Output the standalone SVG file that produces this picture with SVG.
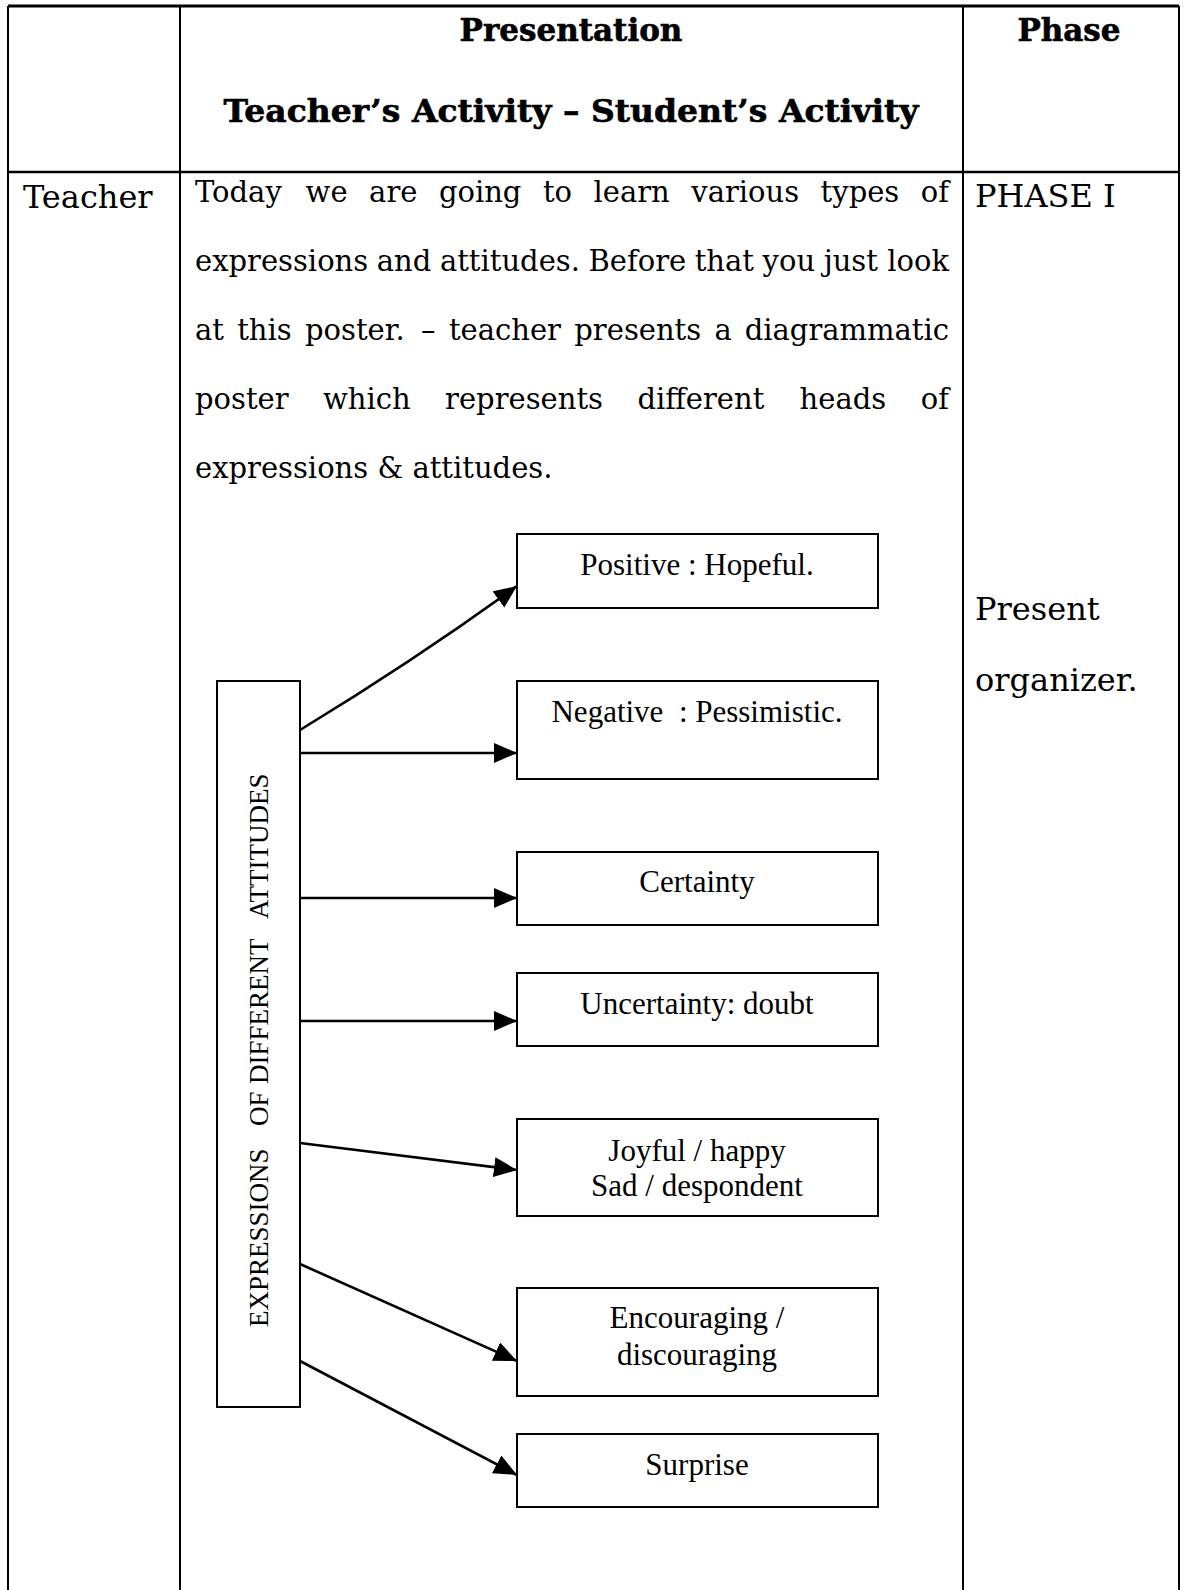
<svg xmlns="http://www.w3.org/2000/svg" width="1184" height="1590" viewBox="0 0 1184 1590">
<style>
.grid{stroke:#000;stroke-width:2;fill:none}
.hd{font-family:"DejaVu Serif","Liberation Serif",serif;font-weight:bold;font-size:31px;fill:#000;stroke:#000;stroke-width:0.6;text-anchor:middle}
.body{font-family:"DejaVu Serif","Liberation Serif",serif;font-size:29px;fill:#000}
.big{font-family:"DejaVu Serif","Liberation Serif",serif;font-size:32px;fill:#000}
.box{fill:#fff;stroke:#000;stroke-width:2}
.lbl{font-family:"Liberation Serif","Times New Roman",serif;font-size:31px;fill:#000;text-anchor:middle}
.vlbl{font-family:"Liberation Serif","Times New Roman",serif;font-size:27px;fill:#000}
.con{stroke:#000;stroke-width:2.6;fill:none;marker-end:url(#arr)}
</style>
<defs>
<marker id="arr" markerUnits="userSpaceOnUse" markerWidth="26" markerHeight="22" refX="23" refY="10" orient="auto">
<path d="M0,0 L23,10 L0,20 Z" fill="#000"/>
</marker>
</defs>
<rect width="1184" height="1590" fill="#fff"/>
<g id="table" class="grid">
<line x1="8" y1="6" x2="1179" y2="6" stroke-width="3"/>
<line x1="8" y1="172" x2="1179" y2="172" stroke-width="2.5"/>
<line x1="8" y1="6" x2="8" y2="1590"/>
<line x1="180" y1="6" x2="180" y2="1590"/>
<line x1="963" y1="6" x2="963" y2="1590"/>
<line x1="1179" y1="6" x2="1179" y2="1590"/>
</g>
<g id="header">
<text class="hd" x="571" y="41">Presentation</text>
<text class="hd" x="571" y="122" textLength="695" lengthAdjust="spacingAndGlyphs">Teacher’s Activity – Student’s Activity</text>
<text class="hd" x="1069" y="41">Phase</text>
</g>
<g id="teacher-cell">
<text class="big" x="23" y="208">Teacher</text>
</g>
<g id="paragraph" class="body">
<text y="202"><tspan x="195">Today</tspan><tspan x="305.6">we</tspan><tspan x="369.1">are</tspan><tspan x="438.9">going</tspan><tspan x="542.9">to</tspan><tspan x="593.5">learn</tspan><tspan x="691.3">various</tspan><tspan x="820.6">types</tspan><tspan x="949" text-anchor="end">of</tspan></text>
<text y="271"><tspan x="195">expressions</tspan><tspan x="376.8">and</tspan><tspan x="439.9">attitudes.</tspan><tspan x="588.5">Before</tspan><tspan x="694.7">that</tspan><tspan x="762.6">you</tspan><tspan x="823.7">just</tspan><tspan x="949" text-anchor="end">look</tspan></text>
<text y="340"><tspan x="195">at</tspan><tspan x="237.2">this</tspan><tspan x="305">poster.</tspan><tspan x="421.1">–</tspan><tspan x="448.9">teacher</tspan><tspan x="574.3">presents</tspan><tspan x="714.4">a</tspan><tspan x="949" text-anchor="end">diagrammatic</tspan></text>
<text y="409"><tspan x="195">poster</tspan><tspan x="323">which</tspan><tspan x="445.1">represents</tspan><tspan x="637.4">different</tspan><tspan x="799.6">heads</tspan><tspan x="949" text-anchor="end">of</tspan></text>
<text y="478" x="195">expressions &amp; attitudes.</text>
</g>
<g id="phase-cell" class="big">
<text x="975" y="207">PHASE I</text>
<text x="975" y="620">Present</text>
<text x="975" y="691">organizer.</text>
</g>
<g id="connectors">
<path class="con" d="M300,730 Q415,660 517,586"/>
<path class="con" d="M300,753 L517,753"/>
<path class="con" d="M300,898 L517,898"/>
<path class="con" d="M300,1021 L517,1021"/>
<path class="con" d="M300,1143 L517,1170"/>
<path class="con" d="M300,1264 L517,1361"/>
<path class="con" d="M300,1361 L517,1475"/>
</g>
<g id="node-root">
<rect class="box" x="217" y="681" width="83" height="726"/>
<text class="vlbl" transform="translate(268,1327) rotate(-90)"><tspan x="0">EXPRESSIONS</tspan><tspan x="201">OF</tspan><tspan x="243">DIFFERENT</tspan><tspan x="408">ATTITUDES</tspan></text>
</g>
<g id="node-positive">
<rect class="box" x="517" y="534" width="361" height="74"/>
<text class="lbl" x="697" y="575">Positive : Hopeful.</text>
</g>
<g id="node-negative">
<rect class="box" x="517" y="681" width="361" height="98"/>
<text class="lbl" x="697" y="722">Negative&#160; : Pessimistic.</text>
</g>
<g id="node-certainty">
<rect class="box" x="517" y="852" width="361" height="73"/>
<text class="lbl" x="697" y="892">Certainty</text>
</g>
<g id="node-uncertainty">
<rect class="box" x="517" y="973" width="361" height="73"/>
<text class="lbl" x="697" y="1014">Uncertainty: doubt</text>
</g>
<g id="node-joyful">
<rect class="box" x="517" y="1119" width="361" height="97"/>
<text class="lbl" x="697" y="1161">Joyful / happy</text>
<text class="lbl" x="697" y="1196">Sad / despondent</text>
</g>
<g id="node-encouraging">
<rect class="box" x="517" y="1288" width="361" height="108"/>
<text class="lbl" x="697" y="1328">Encouraging /</text>
<text class="lbl" x="697" y="1365">discouraging</text>
</g>
<g id="node-surprise">
<rect class="box" x="517" y="1434" width="361" height="73"/>
<text class="lbl" x="697" y="1475">Surprise</text>
</g>
</svg>
